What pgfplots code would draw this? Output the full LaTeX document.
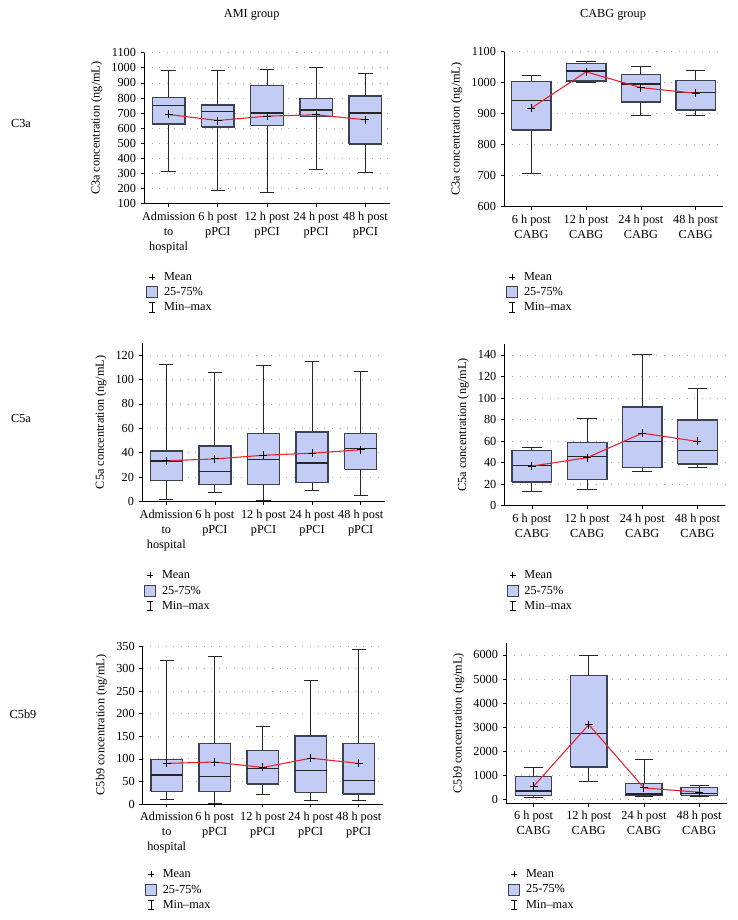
\documentclass[border=0pt]{standalone}
\usepackage{fontspec}
\setmainfont{Liberation Serif}
\usepackage{pgfplots}
\pgfplotsset{compat=1.18}

\definecolor{boxfill}{HTML}{C3CCF5}
\definecolor{boxedge}{HTML}{3C4350}
\definecolor{meanred}{HTML}{E8202A}

% half widths of box and whisker cap, in category units
\def\bw{0.33}
\def\cw{0.145}

% one box from its five numbers: position, min, q1, median, q3, max
\newcommand{\bx}[6]{%
  \pgfmathsetmacro{\boxL}{#1-\bw}\pgfmathsetmacro{\boxR}{#1+\bw}%
  \pgfmathsetmacro{\capL}{#1-\cw}\pgfmathsetmacro{\capR}{#1+\cw}%
  \addplot[whisk] coordinates {(#1,#5) (#1,#6)};
  \addplot[whisk] coordinates {(#1,#2) (#1,#3)};
  \addplot[whisk] coordinates {(\capL,#6) (\capR,#6)};
  \addplot[whisk] coordinates {(\capL,#2) (\capR,#2)};
  \addplot[boxst] coordinates {(\boxL,#3) (\boxR,#3) (\boxR,#5) (\boxL,#5) (\boxL,#3)};
  \addplot[medst] coordinates {(\boxL,#4) (\boxR,#4)};
}

\pgfplotsset{
  whisk/.style={forget plot, black!85, line width=0.65pt, mark=none},
  boxst/.style={forget plot, draw=boxedge, fill=boxfill, line width=1pt, mark=none, line join=miter},
  medst/.style={forget plot, black!85, line width=0.95pt, mark=none},
  panel/.style={
    scale only axis,
    axis x line=bottom, axis y line=left,
    axis line style={-, black, line width=0.6pt},
    tick align=outside, major tick length=2.5pt,
    tick style={black, line width=0.5pt},
    ymajorgrids, major grid style={gray!70, line width=0.6pt, dash pattern=on 0.7pt off 5pt},
    font=\fontsize{9.2}{11.25}\selectfont,
    ticklabel style={font=\fontsize{9.2}{11.25}\selectfont},
    xticklabel style={align=center},
    /pgf/number format/assume math mode=true,
    /pgf/number format/set thousands separator={},
    xtick={0,...,4},
    legend style={draw=none, fill=none, inner sep=0pt, row sep=0pt, column sep=3pt,
      font=\fontsize{9.2}{11.25}\selectfont,
      nodes={text height=7pt, text depth=2pt, inner sep=1.25pt},
      at={(axis description cs:0,0)}, anchor=north west},
    legend cell align=left,
  },
  ami/.style={panel, xmin=-0.5, xmax=4.5,
    xticklabels={{Admission\\to\\hospital},{6 h post\\pPCI},{12 h post\\pPCI},{24 h post\\pPCI},{48 h post\\pPCI}}},
  cabg/.style={panel, xmin=-0.5, xmax=3.5,
    xticklabels={{6 h post\\CABG},{12 h post\\CABG},{24 h post\\CABG},{48 h post\\CABG}}},
  meanline/.style={forget plot, meanred, line width=0.8pt, mark=+,
    mark size=3pt, mark options={black, line width=0.7pt}},
}

\newcommand{\legendrows}{%
  \addlegendimage{legend image code/.code={\draw[black, line width=0.6pt] (1.9pt,0pt)--(6.5pt,0pt) (4.2pt,-2.3pt)--(4.2pt,2.3pt);}}
  \addlegendentry{Mean}
  \addlegendimage{legend image code/.code={\draw[draw=boxedge, fill=boxfill, line width=0.7pt] (0pt,-4.2pt) rectangle (8.4pt,4.2pt);}}
  \addlegendentry{25-75\%}
  \addlegendimage{legend image code/.code={\draw[black, line width=0.6pt] (4.2pt,-3.6pt)--(4.2pt,3.6pt) (1.9pt,3.6pt)--(6.5pt,3.6pt) (1.9pt,-3.6pt)--(6.5pt,-3.6pt);}}
  \addlegendentry{Min--max}}

\begin{document}
\begin{tikzpicture}
\path[use as bounding box] (0pt,0pt) rectangle (553.5pt,-690pt);
\node[font=\fontsize{9.2}{11}\selectfont] at (188.78pt,-11.25pt) {AMI group};
\node[font=\fontsize{9.2}{11}\selectfont] at (459.75pt,-11.25pt) {CABG group};
\node[font=\fontsize{9.2}{11}\selectfont] at (15.75pt,-93pt) {C3a};
\node[font=\fontsize{9.2}{11}\selectfont] at (15.75pt,-313.5pt) {C5a};
\node[font=\fontsize{9.2}{11}\selectfont] at (17.25pt,-535.5pt) {C5b9};

% AMI C3a
\begin{axis}[ami, at={(108pt,-152.78pt)}, anchor=south west,
  width=184.5pt, height=113.25pt,
  ymin=100, ymax=1100, ytick={100,200,...,1100},
  ylabel={C3a concentration (ng/mL)},
  legend style={xshift=1.5pt, yshift=-49pt}]
\bx{0}{315}{627}{751}{802}{982}
\bx{1}{187}{609}{709}{753}{982}
\bx{2}{173}{618}{700}{883}{991}
\bx{3}{329}{678}{720}{795}{1000}
\bx{4}{304}{496}{700}{813}{963}
\addplot[meanline] coordinates {(0,691) (1,651) (2,680) (3,689) (4,656)};
\legendrows
\end{axis}

\def\bw{0.36}
\def\cw{0.18}
% CABG C3a
\begin{axis}[cabg, at={(378pt,-155.03pt)}, anchor=south west,
  width=164.25pt, height=116.25pt,
  ymin=600, ymax=1100, ytick={600,700,...,1100},
  ylabel={C3a concentration (ng/mL)},
  legend style={xshift=1.5pt, yshift=-46.7pt}]
\bx{0}{708}{847}{942}{1003}{1023}
\bx{1}{1001}{1006}{1038}{1062}{1070}
\bx{2}{896}{938}{996}{1027}{1053}
\bx{3}{894}{912}{969}{1008}{1040}
\addplot[meanline] coordinates {(0,918) (1,1035) (2,984) (3,966)};
\legendrows
\end{axis}

\def\bw{0.33}
\def\cw{0.145}
% AMI C5a
\begin{axis}[ami, at={(106.5pt,-376.28pt)}, anchor=south west,
  width=182.25pt, height=119.18pt,
  ymin=0, ymax=130, ytick={0,20,...,120},
  ylabel={C5a concentration (ng/mL)},
  legend style={xshift=1.5pt, yshift=-49.3pt}]
\bx{0}{1.6}{17.3}{33.2}{41.4}{112}
\bx{1}{7.4}{14}{24.9}{45.5}{105.5}
\bx{2}{1.4}{14}{34.4}{56}{111.5}
\bx{3}{9.5}{15.6}{31.6}{57}{115}
\bx{4}{5.2}{26.6}{43.8}{56}{106.6}
\addplot[meanline] coordinates {(0,33.5) (1,35) (2,38) (3,39.7) (4,42.5)};
\legendrows
\end{axis}

\def\bw{0.36}
\def\cw{0.18}
% CABG C5a
\begin{axis}[cabg, at={(378.23pt,-379.28pt)}, anchor=south west,
  width=165.53pt, height=121.13pt,
  ymin=0, ymax=150, ytick={0,20,...,140},
  ylabel={C5a concentration (ng/mL)},
  legend style={xshift=1.5pt, yshift=-46.3pt}]
\bx{0}{13.6}{21.9}{37.5}{51}{54}
\bx{1}{15.2}{24.1}{45.8}{58.5}{81}
\bx{2}{31.9}{35.3}{59.7}{91.6}{140.6}
\bx{3}{35.3}{38.8}{51.5}{79.7}{109}
\addplot[meanline] coordinates {(0,36.8) (1,44.6) (2,67.4) (3,59.7)};
\legendrows
\end{axis}

\def\bw{0.33}
\def\cw{0.145}
% AMI C5b9
\begin{axis}[ami, at={(107.03pt,-603pt)}, anchor=south west,
  width=180pt, height=118.5pt,
  ymin=0, ymax=350, ytick={0,50,...,350},
  ylabel={C5b9 concentration (ng/mL)},
  legend style={xshift=1.5pt, yshift=-46.8pt}]
\bx{0}{11}{28}{64}{99}{317}
\bx{1}{1.5}{27.6}{61.6}{134}{326}
\bx{2}{20.7}{44}{78.5}{119}{171}
\bx{3}{7.4}{26}{74}{151}{273}
\bx{4}{9}{22}{52}{134.5}{342.6}
\addplot[meanline] coordinates {(0,90) (1,93) (2,81) (3,101.5) (4,90)};
\legendrows
\end{axis}

\def\bw{0.33}
\def\cw{0.17}
% CABG C5b9
\begin{axis}[cabg, at={(379.5pt,-602.48pt)}, anchor=south west,
  width=165.53pt, height=120.3pt,
  ymin=-170, ymax=6500, ytick={0,1000,...,6000},
  ylabel={C5b9 concentration (ng/mL)},
  legend style={xshift=1.5pt, yshift=-47.3pt}]
\bx{0}{83}{152}{346}{945}{1305}
\bx{1}{720}{1345}{2730}{5140}{5970}
\bx{2}{125}{152}{222}{665}{1635}
\bx{3}{110}{166}{250}{485}{568}
\addplot[meanline] coordinates {(0,540) (1,3100) (2,470) (3,290)};
\legendrows
\end{axis}
\end{tikzpicture}
\end{document}
